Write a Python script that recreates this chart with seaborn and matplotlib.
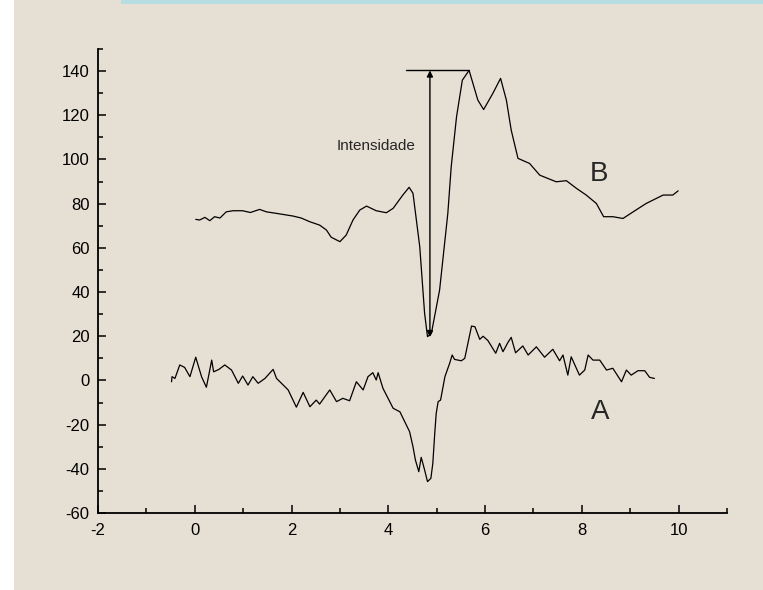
import pandas as pd
import matplotlib.pyplot as plt
import seaborn as sns
from matplotlib.patches import Rectangle
from matplotlib.ticker import MultipleLocator

# curve B (upper trace)
b_x = [0.02, 0.10, 0.21, 0.31, 0.41, 0.52, 0.65, 0.79, 0.99, 1.15,
       1.34, 1.48, 1.69, 2.03, 2.20, 2.38, 2.58, 2.72, 2.82, 3.00,
       3.13, 3.27, 3.41, 3.55, 3.75, 3.96, 4.10, 4.30, 4.43, 4.51,
       4.65, 4.75, 4.81, 4.89, 5.06, 5.23, 5.30, 5.41, 5.53, 5.67,
       5.85, 5.97, 6.16, 6.32, 6.44, 6.54, 6.68, 6.92, 7.13, 7.47,
       7.68, 7.89, 8.09, 8.30, 8.45, 8.64, 8.85, 9.06, 9.33, 9.68,
       9.88, 9.99]
b_y = [72.9, 72.6, 73.8, 72.3, 74.1, 73.5, 76.3, 76.8, 76.8, 76.0,
       77.4, 76.3, 75.6, 74.4, 73.5, 71.8, 70.3, 68.1, 64.8, 62.8,
       65.8, 72.6, 77.1, 78.9, 76.8, 75.9, 77.9, 83.9, 87.4, 84.7,
       60.5, 30.4, 19.8, 21.3, 40.9, 75.6, 96.7, 119.3, 135.9, 140.3,
       126.9, 122.6, 129.9, 136.7, 126.9, 113.3, 100.5, 98.2, 92.9, 89.9,
       90.4, 86.9, 83.9, 80.1, 74.1, 74.1, 73.3, 76.3, 80.1, 83.9,
       83.9, 85.8]

# curve A (lower trace)
a_x = [-0.48, -0.47, -0.41, -0.31, -0.21, -0.10, 0.02, 0.14, 0.24, 0.35,
       0.39, 0.50, 0.62, 0.76, 0.90, 0.99, 1.10, 1.20, 1.31, 1.45,
       1.62, 1.69, 1.76, 1.93, 2.10, 2.24, 2.38, 2.51, 2.58, 2.79,
       2.93, 3.06, 3.20, 3.34, 3.48, 3.58, 3.68, 3.75, 3.79, 3.89,
       4.10, 4.24, 4.34, 4.44, 4.51, 4.56, 4.63, 4.68, 4.75, 4.81,
       4.88, 4.92, 4.96, 4.99, 5.03, 5.08, 5.17, 5.27, 5.32, 5.37,
       5.51, 5.58, 5.72, 5.79, 5.89, 5.96, 6.06, 6.22, 6.30, 6.37,
       6.47, 6.54, 6.63, 6.78, 6.89, 7.06, 7.23, 7.40, 7.54, 7.61,
       7.71, 7.78, 7.95, 8.06, 8.13, 8.23, 8.37, 8.51, 8.64, 8.82,
       8.92, 9.02, 9.16, 9.30, 9.40, 9.50]
a_y = [-0.6, 1.7, 0.9, 7.0, 5.9, 1.7, 10.5, 1.7, -3.1, 9.2,
       3.9, 5.0, 7.0, 4.7, -1.3, 2.0, -2.1, 1.7, -1.3, 0.9,
       5.0, 0.9, -0.6, -4.3, -12.1, -5.4, -11.9, -8.9, -10.7, -4.3,
       -9.6, -8.1, -9.2, -0.6, -4.3, 1.7, 3.5, 0.2, 3.5, -3.6,
       -12.6, -14.2, -18.7, -23.2, -30.0, -36.0, -41.3, -34.8, -40.5, -45.8,
       -44.3, -37.5, -23.9, -14.9, -9.6, -8.9, 1.7, 7.9, 11.5, 9.5,
       8.9, 10.0, 24.6, 24.3, 18.6, 20.0, 18.0, 12.3, 16.8, 13.0,
       17.1, 19.5, 12.5, 15.6, 11.5, 15.2, 10.5, 14.1, 8.9, 11.5,
       2.4, 10.7, 2.4, 4.7, 11.5, 9.2, 9.2, 4.7, 5.5, -0.6,
       4.7, 2.4, 4.4, 4.4, 1.4, 0.9]

# annotation values
arrow_x = 4.86
arrow_top = 140.3
arrow_bottom = 19.6
bar_x = [4.36, 5.66]
label_text = "Intensidade"

BG = "#e6dfd3"

sns.set_style("ticks")
plt.rcParams['font.family'] = ['Liberation Sans', 'DejaVu Sans']
plt.rcParams['axes.unicode_minus'] = False

fig = plt.figure(figsize=(7.63, 5.90), dpi=100)
fig.patch.set_facecolor(BG)
fig.patches.append(Rectangle((0, 0), 14 / 763, 1, transform=fig.transFigure,
                             facecolor="white", edgecolor="none", zorder=0))
fig.patches.append(Rectangle((121 / 763, 1 - 4 / 590), 1, 4 / 590,
                             transform=fig.transFigure,
                             facecolor="#b6dde2", edgecolor="none", zorder=0))

ax = fig.add_axes([98 / 763, 77 / 590, 629 / 763, 464 / 590])
ax.set_facecolor("none")

df_b = pd.DataFrame({"x": b_x, "y": b_y})
df_a = pd.DataFrame({"x": a_x, "y": a_y})
sns.lineplot(data=df_b, x="x", y="y", ax=ax, color="black", linewidth=0.9,
             sort=False, estimator=None)
sns.lineplot(data=df_a, x="x", y="y", ax=ax, color="black", linewidth=0.9,
             sort=False, estimator=None)

# intensity marker
ax.plot(bar_x, [arrow_top, arrow_top], color="black", linewidth=1.0)
ax.annotate("", xy=(arrow_x, arrow_bottom), xytext=(arrow_x, arrow_top),
            arrowprops=dict(arrowstyle="<|-|>", color="black", lw=1.0,
                            mutation_scale=9, shrinkA=0, shrinkB=0))
ax.text(3.74, 106, label_text, fontsize=11, ha="center", va="center")
ax.text(8.35, 93.3, "B", fontsize=20, ha="center", va="center")
ax.text(8.37, -14.3, "A", fontsize=20, ha="center", va="center")

ax.set_xlim(-2, 11)
ax.set_ylim(-60, 150)
ax.xaxis.set_major_locator(MultipleLocator(2))
ax.xaxis.set_minor_locator(MultipleLocator(1))
ax.yaxis.set_major_locator(MultipleLocator(20))
ax.yaxis.set_minor_locator(MultipleLocator(10))
ax.set_xticks(range(-2, 11, 2))
ax.set_yticks(range(-60, 141, 20))
ax.tick_params(which="both", direction="in", width=1.1, colors="black",
               labelsize=12)
ax.tick_params(which="major", length=6)
ax.tick_params(which="minor", length=3.5)
ax.tick_params(axis="x", pad=7)
ax.tick_params(axis="y", pad=6)
ax.set_xlabel("")
ax.set_ylabel("")
ax.grid(False)

sns.despine(ax=ax)
for side in ("left", "bottom"):
    ax.spines[side].set_linewidth(1.3)
    ax.spines[side].set_color("black")

fig.savefig("out.png", dpi=100, facecolor=fig.get_facecolor())
